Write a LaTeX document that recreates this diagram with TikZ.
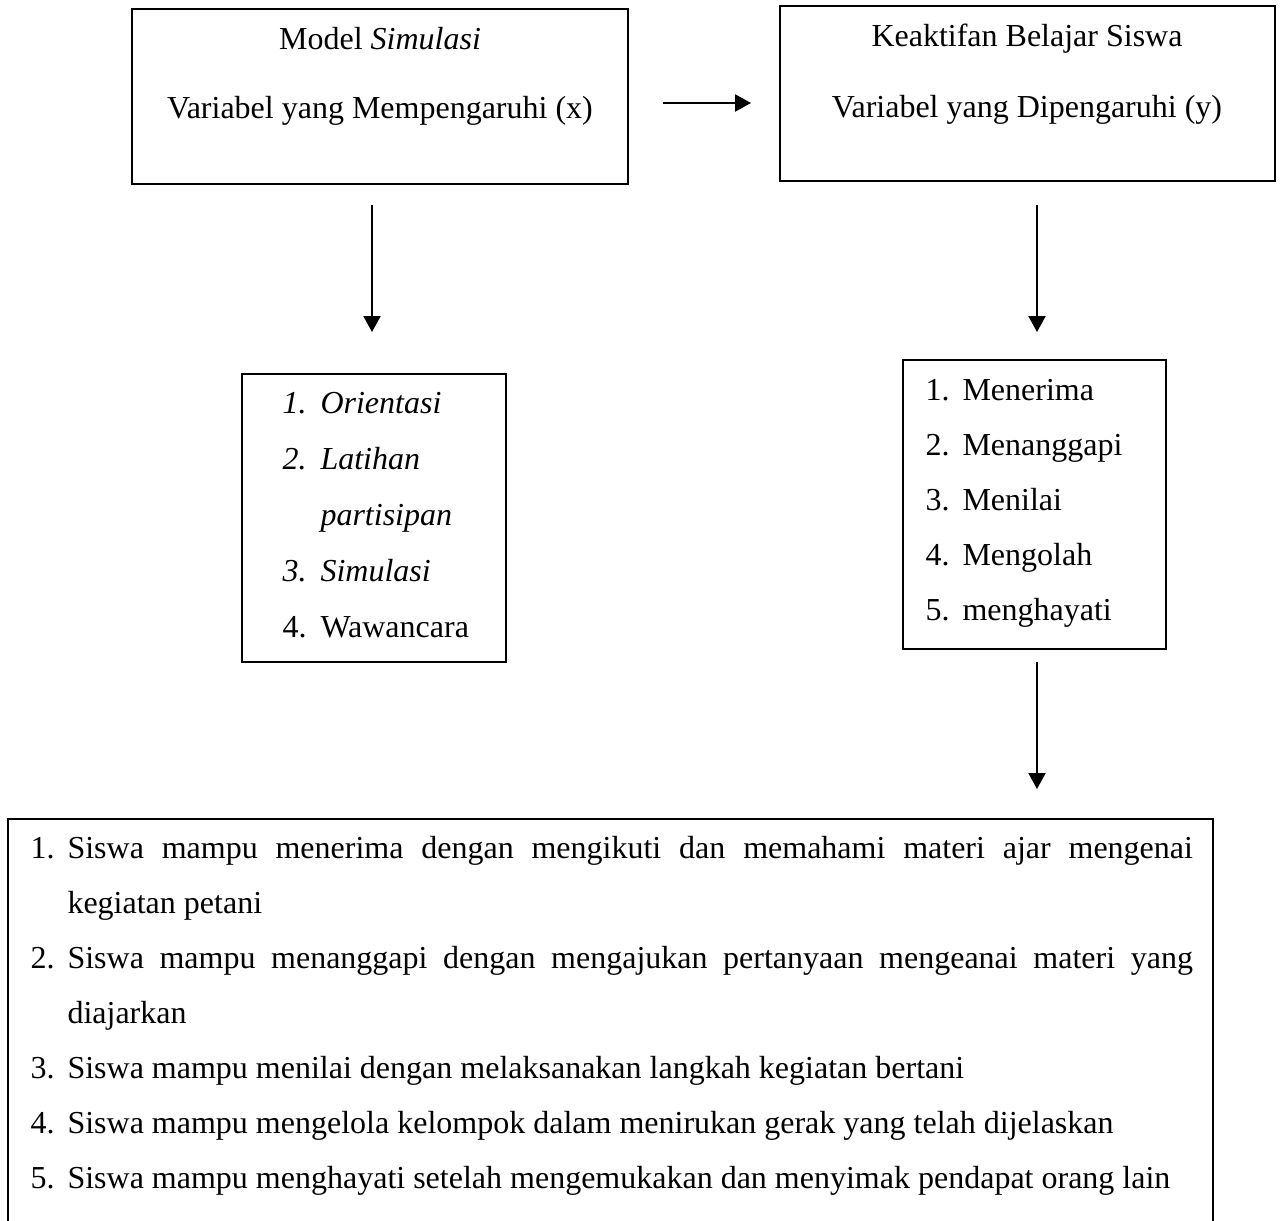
\documentclass[tikz,border=0pt]{standalone}
\usepackage{fontspec}
\setmainfont{Liberation Serif}
\usetikzlibrary{arrows.meta,fit}
\begin{document}
\begin{tikzpicture}[x=0.375pt,y=-0.375pt,
  box/.style={draw, line width=0.75pt, inner sep=0pt},
  txt/.style={inner sep=0pt, font=\fontsize{12}{14}\selectfont},
  ctxt/.style={txt, anchor=base},
  ltxt/.style={txt, anchor=base west},
  arr/.style={-{Triangle[length=6pt,width=6.4pt]}, line width=0.75pt}]
\useasboundingbox (0,0) rectangle (1284,1220);
\clip (0,0) rectangle (1284,1220);

% top boxes
\node[box, fit={(132,9) (628,184)}] (A) {};
\node[ctxt] (A1) at (380,50) {Model \textit{Simulasi}};
\node[ctxt] (A2) at (380,119) {Variabel yang Mempengaruhi (x)};

\node[box, fit={(780,6) (1275,181)}] (Y) {};
\node[ctxt] (Y1) at (1027,47) {Keaktifan Belajar Siswa};
\node[ctxt] (Y2) at (1027,118) {Variabel yang Dipengaruhi (y)};

% arrows
\coordinate (h1) at (663,103);
\coordinate (h2) at (751,103);
\draw[arr] (h1) -- (h2);
\coordinate (l1) at (372,205);
\coordinate (l2) at (372,332);
\draw[arr] (l1) -- (l2);
\coordinate (r1) at (1037,205);
\coordinate (r2) at (1037,332);
\draw[arr] (r1) -- (r2);
\coordinate (s1) at (1037,662);
\coordinate (s2) at (1037,789);
\draw[arr] (s1) -- (s2);

% left list box
\node[box, fit={(242,374) (506,662)}] (B) {};
\node[ltxt] (B1n) at (282,413) {\textit{1.}};
\node[ltxt] (B1) at (320,413) {\textit{Orientasi}};
\node[ltxt] (B2n) at (282,469) {\textit{2.}};
\node[ltxt] (B2) at (320,469) {\textit{Latihan}};
\node[ltxt] (B2b) at (320,525) {\textit{partisipan}};
\node[ltxt] (B3n) at (282,581) {\textit{3.}};
\node[ltxt] (B3) at (320,581) {\textit{Simulasi}};
\node[ltxt] (B4n) at (282,637) {4.};
\node[ltxt] (B4) at (320,637) {Wawancara};

% right list box
\node[box, fit={(903,360) (1166,649)}] (C) {};
\node[ltxt] (C1n) at (925,400) {1.};
\node[ltxt] (C1) at (962,400) {Menerima};
\node[ltxt] (C2n) at (925,455) {2.};
\node[ltxt] (C2) at (962,455) {Menanggapi};
\node[ltxt] (C3n) at (925,510) {3.};
\node[ltxt] (C3) at (962,510) {Menilai};
\node[ltxt] (C4n) at (925,565) {4.};
\node[ltxt] (C4) at (962,565) {Mengolah};
\node[ltxt] (C5n) at (925,620) {5.};
\node[ltxt] (C5) at (962,620) {menghayati};

% bottom box
\node[box, fit={(8,819) (1213,1260)}] (D) {};
\node[ltxt] (D1n) at (30,858) {1.};
\node[ltxt] (D1) at (67,858) {\makebox[422pt][s]{Siswa mampu menerima dengan mengikuti dan memahami materi ajar mengenai}};
\node[ltxt] (D1b) at (67,913) {kegiatan petani};
\node[ltxt] (D2n) at (30,968) {2.};
\node[ltxt] (D2) at (67,968) {\makebox[422pt][s]{Siswa mampu menanggapi dengan mengajukan pertanyaan mengeanai materi yang}};
\node[ltxt] (D2b) at (67,1023) {diajarkan};
\node[ltxt] (D3n) at (30,1078) {3.};
\node[ltxt] (D3) at (67,1078) {Siswa mampu menilai dengan melaksanakan langkah kegiatan bertani};
\node[ltxt] (D4n) at (30,1133) {4.};
\node[ltxt] (D4) at (67,1133) {Siswa mampu mengelola kelompok dalam menirukan gerak yang telah dijelaskan};
\node[ltxt] (D5n) at (30,1188) {5.};
\node[ltxt] (D5) at (67,1188) {Siswa mampu menghayati setelah mengemukakan dan menyimak pendapat orang lain};
\end{tikzpicture}
\end{document}
